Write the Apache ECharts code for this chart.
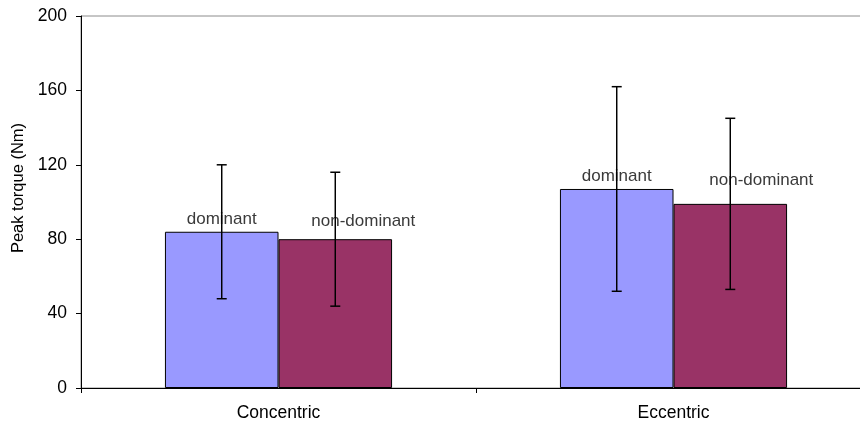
<!DOCTYPE html>
<html>
<head>
<meta charset="utf-8">
<script src="https://cdn.jsdelivr.net/npm/echarts@6/dist/echarts.min.js"></script>
<style>
html,body{margin:0;padding:0;background:#fff;overflow:hidden;width:860px;height:424px;}
#chart{width:872px;height:424px;}
</style>
</head>
<body>
<div id="chart"></div>
<script>
var categories = ['Concentric', 'Eccentric'];
var seriesNames = ['dominant', 'non-dominant'];
var dominantValues = [84, 107];
var nonDominantValues = [80, 99];
var dominantErrLow = [48, 52];
var dominantErrHigh = [120, 162];
var nonDominantErrLow = [44, 53];
var nonDominantErrHigh = [116, 145];
var yTicks = [0, 40, 80, 120, 160, 200];

// label layout (pixel offsets), kept apart from values
var dominantLabelOffsets = [[0, 0], [0, 0]];
var nonDominantLabelOffsets = [[28, -5], [31, -11]];

var BAR_FRAC = 0.2875;

function labelled(values, offsets) {
  return values.map(function (v, i) {
    return { value: v, label: { offset: offsets[i] } };
  });
}

var errData = [];
for (var i = 0; i < categories.length; i++) {
  errData.push([i, dominantErrLow[i], dominantErrHigh[i], 0]);
  errData.push([i, nonDominantErrLow[i], nonDominantErrHigh[i], 1]);
}

var chart = echarts.init(document.getElementById('chart'), null, { renderer: 'canvas' });
var FONT = 'Liberation Sans, Arial, sans-serif';
var labelStyle = {
  show: true,
  position: 'top',
  distance: 4,
  color: '#3a3a3a',
  fontFamily: FONT,
  fontSize: 17
};

chart.setOption({
  animation: false,
  backgroundColor: '#fff',
  grid: {
    left: 81, top: 16, bottom: 36, right: 1,
    show: true, borderColor: '#8c8c8c', borderWidth: 1, backgroundColor: 'transparent'
  },
  xAxis: {
    type: 'category',
    data: categories,
    axisLine: { lineStyle: { color: '#000', width: 1 } },
    axisTick: { show: true, length: 5, lineStyle: { color: '#000' } },
    axisLabel: { color: '#000', fontSize: 17.5, margin: 16, fontFamily: FONT }
  },
  yAxis: {
    type: 'value',
    min: 0, max: 200, interval: 40,
    name: 'Peak torque (Nm)',
    nameLocation: 'middle',
    nameGap: 52,
    nameRotate: 90,
    nameTextStyle: { color: '#000', fontSize: 16.5, fontFamily: FONT, padding: [0, 0, 0, 28] },
    splitLine: { show: false },
    axisLine: { show: true, lineStyle: { color: '#000', width: 1 } },
    axisTick: { show: true, length: 5, lineStyle: { color: '#000' } },
    axisLabel: {
      color: '#000', fontSize: 17.5, margin: 14, fontFamily: FONT,
      formatter: function (v) { return yTicks.indexOf(v) >= 0 ? String(v) : ''; }
    }
  },
  series: [
    {
      name: seriesNames[0],
      type: 'bar',
      barWidth: (BAR_FRAC * 100) + '%',
      barGap: '0%',
      itemStyle: { color: '#9999ff', borderColor: '#000', borderWidth: 1 },
      label: Object.assign({}, labelStyle, { formatter: seriesNames[0] }),
      data: labelled(dominantValues, dominantLabelOffsets)
    },
    {
      name: seriesNames[1],
      type: 'bar',
      barWidth: (BAR_FRAC * 100) + '%',
      barGap: '0%',
      itemStyle: { color: '#993366', borderColor: '#000', borderWidth: 1 },
      label: Object.assign({}, labelStyle, { formatter: seriesNames[1] }),
      data: labelled(nonDominantValues, nonDominantLabelOffsets)
    },
    {
      type: 'custom',
      z: 10,
      data: errData,
      renderItem: function (params, api) {
        var cat = api.value(0);
        var lo = api.coord([cat, api.value(1)]);
        var hi = api.coord([cat, api.value(2)]);
        var bw = api.size([1, 0])[0] * BAR_FRAC;
        var x = lo[0] + (api.value(3) === 0 ? -bw / 2 : bw / 2);
        var cap = 5;
        var st = { stroke: '#000', lineWidth: 1.5 };
        return {
          type: 'group',
          children: [
            { type: 'line', shape: { x1: x, y1: lo[1], x2: x, y2: hi[1] }, style: st },
            { type: 'line', shape: { x1: x - cap, y1: lo[1], x2: x + cap, y2: lo[1] }, style: st },
            { type: 'line', shape: { x1: x - cap, y1: hi[1], x2: x + cap, y2: hi[1] }, style: st }
          ]
        };
      }
    }
  ]
});
</script>
</body>
</html>
